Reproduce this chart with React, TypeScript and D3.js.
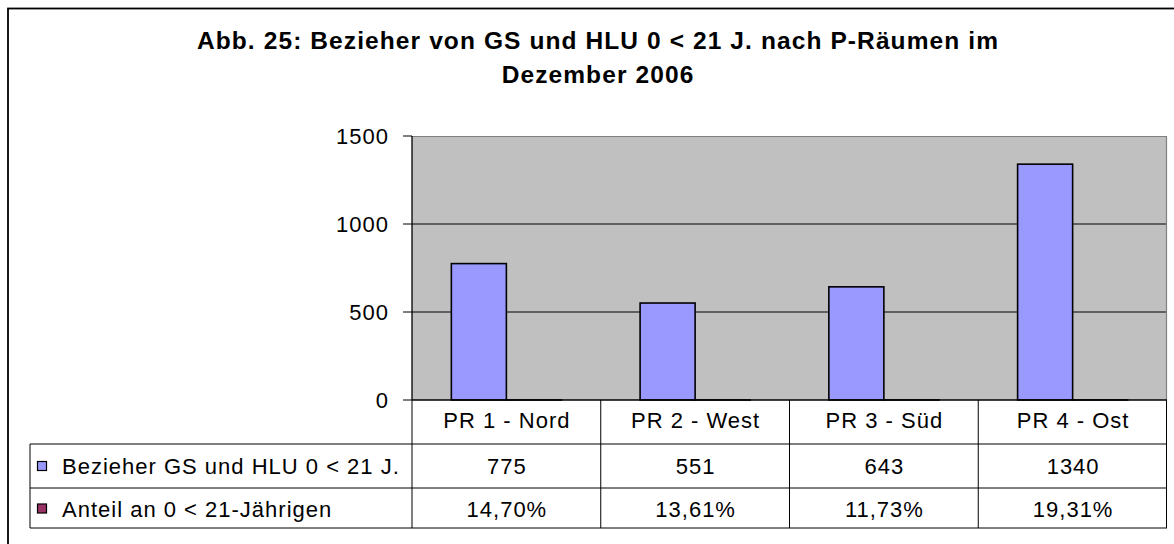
import React from "react";
import * as d3 from "d3";

const categories = ["PR 1 - Nord", "PR 2 - West", "PR 3 - Süd", "PR 4 - Ost"];
const seriesNames = ["Bezieher GS und HLU 0 < 21 J.", "Anteil an 0 < 21-Jährigen"];
const bezieher = [775, 551, 643, 1340];
const anteil = [0.147, 0.1361, 0.1173, 0.1931];
const yTicks = [0, 500, 1000, 1500];
const titleLines = ["Abb. 25: Bezieher von GS und HLU 0 < 21 J. nach P-Räumen im", "Dezember 2006"];
const seriesColors = ["#9999FF", "#993366"];

const W = 1174;
const H = 544;
const FONT = "'Liberation Sans', Arial, Helvetica, sans-serif";
const FS = 22;
const LS = 1;

export default function App() {
  const plot = { left: 412, right: 1167, top: 136, bottom: 400 };
  const table = { left: 30, headerBottom: 444, row1Bottom: 488, bottom: 528 };

  const y = d3.scaleLinear().domain([0, 1500]).range([plot.bottom, plot.top]);
  const cat = d3
    .scaleBand<string>()
    .domain(categories)
    .range([plot.left, plot.right])
    .paddingInner(0.417)
    .paddingOuter(0.2085);
  const sub = d3.scaleBand<number>().domain([0, 1]).range([0, cat.bandwidth()]);
  const col = d3.scaleBand<string>().domain(categories).range([plot.left, plot.right]);

  const series = [bezieher, anteil];
  const fmtPct = (v: number) => (v * 100).toFixed(2).replace(".", ",") + "%";
  const rowTexts = [bezieher.map((v) => String(v)), anteil.map(fmtPct)];
  const rowCenters = [466.5, 509];
  const headerCenter = 420;

  return (
    <svg
      width={W}
      height={H}
      style={{ position: "absolute", left: 0, top: 0, background: "#fff" }}
      fontFamily={FONT}
    >
      <rect x={8} y={8.5} width={1300} height={700} fill="#fff" stroke="#000" strokeWidth={1.8} />

      {/* Title */}
      <text textAnchor="middle" fontWeight="bold" fontSize={24.5} letterSpacing={1.1} fill="#000">
        <tspan x={598} y={49}>{titleLines[0]}</tspan>
        <tspan x={598} y={83}>{titleLines[1]}</tspan>
      </text>

      {/* Plot area */}
      <rect x={plot.left} y={plot.top} width={plot.right - plot.left} height={plot.bottom - plot.top} fill="#C0C0C0" />
      {yTicks
        .filter((t) => t > 0 && t < 1500)
        .map((t) => (
          <line key={t} x1={plot.left} x2={plot.right} y1={y(t)} y2={y(t)} stroke="#000" strokeWidth={1} />
        ))}
      <line x1={plot.left} x2={plot.right} y1={plot.top + 0.5} y2={plot.top + 0.5} stroke="#808080" strokeWidth={1} />
      <line x1={plot.right - 0.5} x2={plot.right - 0.5} y1={plot.top} y2={plot.bottom} stroke="#808080" strokeWidth={1.2} />

      {/* Bars */}
      {categories.map((c, i) =>
        series.map((s, j) => {
          const x0 = (cat(c) as number) + (sub(j) as number);
          const yv = y(s[i]);
          return (
            <rect
              key={c + j}
              x={x0}
              y={yv}
              width={sub.bandwidth()}
              height={plot.bottom - yv}
              fill={seriesColors[j]}
              stroke="#000"
              strokeWidth={1.6}
            />
          );
        })
      )}

      {/* Y axis */}
      <line x1={plot.left} x2={plot.left} y1={plot.top} y2={plot.bottom} stroke="#000" strokeWidth={1.3} />
      {yTicks.map((t) => (
        <g key={t}>
          <line x1={plot.left - 9} x2={plot.left} y1={y(t)} y2={y(t)} stroke="#000" strokeWidth={1} />
          <text x={389} y={y(t)} dy="0.36em" textAnchor="end" fontSize={FS} letterSpacing={LS} fill="#000">
            {t}
          </text>
        </g>
      ))}

      {/* Data table */}
      <line x1={plot.left} x2={plot.right} y1={plot.bottom} y2={plot.bottom} stroke="#000" strokeWidth={1.3} />
      <line x1={table.left} x2={plot.right} y1={table.headerBottom} y2={table.headerBottom} stroke="#000" strokeWidth={1} />
      <line x1={table.left} x2={plot.right} y1={table.row1Bottom} y2={table.row1Bottom} stroke="#000" strokeWidth={1} />
      <line x1={table.left} x2={plot.right} y1={table.bottom} y2={table.bottom} stroke="#000" strokeWidth={1} />
      <line x1={table.left} x2={table.left} y1={table.headerBottom} y2={table.bottom} stroke="#000" strokeWidth={1} />
      {categories.map((c) => (
        <line key={c} x1={col(c) as number} x2={col(c) as number} y1={plot.bottom} y2={table.bottom} stroke="#000" strokeWidth={1} />
      ))}
      <line x1={plot.right - 0.5} x2={plot.right - 0.5} y1={plot.bottom} y2={table.bottom} stroke="#000" strokeWidth={1} />

      {categories.map((c) => (
        <text
          key={c}
          x={(col(c) as number) + col.bandwidth() / 2 + LS / 2}
          y={headerCenter}
          dy="0.36em"
          textAnchor="middle"
          fontSize={FS}
          letterSpacing={LS}
          fill="#000"
        >
          {c}
        </text>
      ))}

      {seriesNames.map((name, j) => (
        <g key={name}>
          <rect x={37.5} y={rowCenters[j] - 5} width={9} height={9} fill={seriesColors[j]} stroke="#000" strokeWidth={1.2} />
          <text x={62} y={rowCenters[j]} dy="0.36em" fontSize={FS} letterSpacing={LS} fill="#000">
            {name}
          </text>
          {categories.map((c, i) => (
            <text
              key={c}
              x={(col(c) as number) + col.bandwidth() / 2 + LS / 2}
              y={rowCenters[j]}
              dy="0.36em"
              textAnchor="middle"
              fontSize={FS}
              letterSpacing={LS}
              fill="#000"
            >
              {rowTexts[j][i]}
            </text>
          ))}
        </g>
      ))}
    </svg>
  );
}
